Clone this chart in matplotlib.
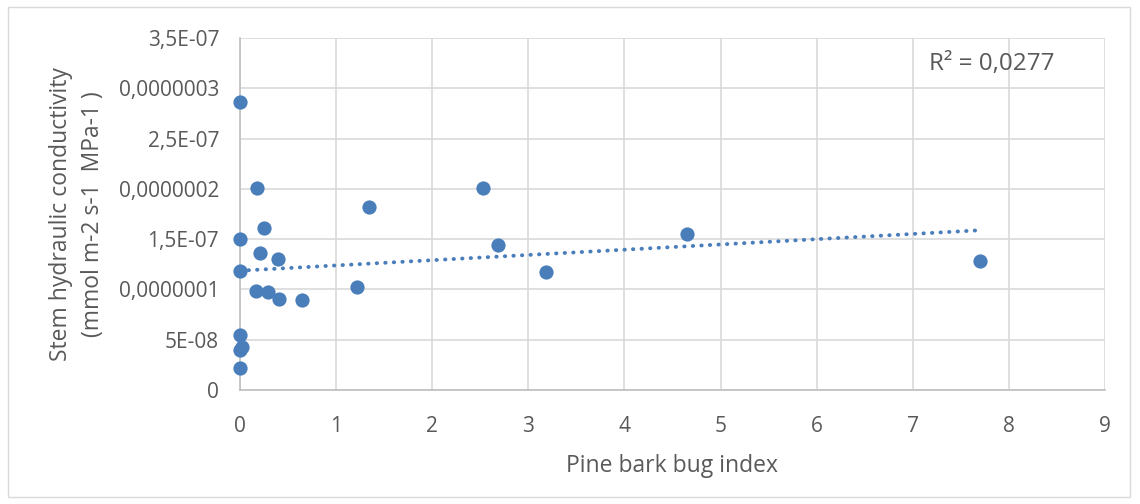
import numpy as np
import matplotlib.pyplot as plt

# Pine bark bug index vs stem hydraulic conductivity
bug_index = [0.0, 0.18, 0.25, 0.0, 0.21, 0.40, 0.0, 0.17, 0.29, 0.41, 0.645,
             1.22, 1.34, 2.53, 2.68, 3.18, 4.65, 7.70, 0.0, 0.02, 0.0, 0.0]
conductivity = [2.86e-7, 2.01e-7, 1.61e-7, 1.50e-7, 1.36e-7, 1.30e-7, 1.18e-7,
                0.98e-7, 0.97e-7, 0.90e-7, 0.89e-7, 1.02e-7, 1.82e-7, 2.01e-7,
                1.44e-7, 1.17e-7, 1.55e-7, 1.28e-7, 0.55e-7, 0.43e-7, 0.40e-7,
                0.22e-7]

y_ticks = [0, 5e-8, 1e-7, 1.5e-7, 2e-7, 2.5e-7, 3e-7, 3.5e-7]
y_labels = ["0", "5E-08", "0,0000001", "1,5E-07", "0,0000002", "2,5E-07",
            "0,0000003", "3,5E-07"]
x_ticks = list(range(10))
r2_text = "R² = 0,0277"

TEXT = "#595959"
BLUE = "#4A7EBB"
GRID = "#D9D9D9"

plt.rcParams["font.family"] = ["Open Sans", "DejaVu Sans"]

fig = plt.figure(figsize=(11.4, 5.04), dpi=100)
ax = fig.add_axes([240 / 1140, 1 - 390 / 504, 865 / 1140, 352 / 504])

# outer chart border
fig.patches.append(plt.Rectangle((8 / 1140, 7 / 504), 1122 / 1140, 490 / 504,
                                 transform=fig.transFigure, fill=False,
                                 edgecolor="#D9D9D9", linewidth=1))

x = np.array(bug_index)
y = np.array(conductivity)
ax.scatter(x, y, s=105, color=BLUE, zorder=3, clip_on=False, linewidths=0)

# linear trendline
slope, intercept = np.polyfit(x, y, 1)
xs = np.array([x.min(), x.max()])
ax.plot(xs, slope * xs + intercept, linestyle=(0, (0.1, 2.1)), color=BLUE,
        linewidth=2.8, zorder=2, dash_capstyle="round")

ax.set_xlim(0, 9)
ax.set_ylim(0, 3.5e-7)
ax.set_xticks(x_ticks)
ax.set_xticklabels([str(t) for t in x_ticks])
ax.set_yticks(y_ticks)
ax.set_yticklabels(y_labels)
ax.grid(True, color=GRID, linewidth=1.2)
ax.set_axisbelow(True)
ax.tick_params(length=0, labelsize=15, colors=TEXT)
ax.tick_params(axis="y", pad=15)
ax.tick_params(axis="x", pad=19)
for side in ["top", "right"]:
    ax.spines[side].set_visible(False)
for side in ["left", "bottom"]:
    ax.spines[side].set_color("#BFBFBF")
    ax.spines[side].set_linewidth(1.2)

ax.set_xlabel("Pine bark bug index", fontsize=16.5, color=TEXT, labelpad=12)
ax.set_ylabel("Stem hydraulic conductivity\n(mmol m-2 s-1  MPa-1 )",
              fontsize=16.5, color=TEXT, labelpad=10, linespacing=1.45)

ax.text(0.796, 0.925, r2_text, transform=ax.transAxes, fontsize=17.5,
        color=TEXT, va="center")

fig.savefig("out.png", dpi=100)
